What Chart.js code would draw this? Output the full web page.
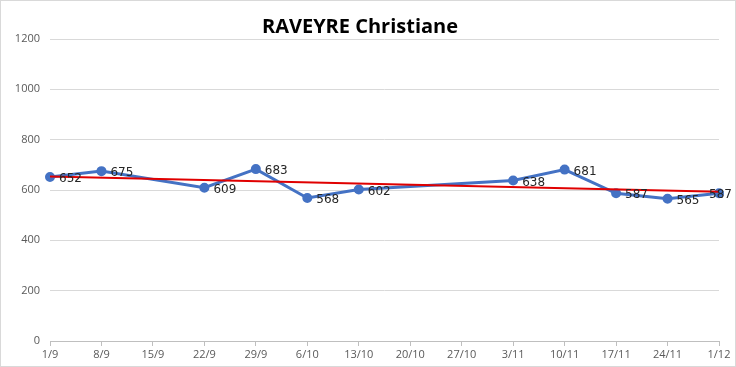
<!DOCTYPE html>
<html>
<head>
<meta charset="utf-8">
<script src="https://cdn.jsdelivr.net/npm/chart.js@4/dist/chart.umd.min.js"></script>
<style>
  body { margin: 0; background: #fff; }
  #wrap { width: 736px; height: 367px; box-sizing: border-box; border: 1px solid #d9d9d9; position: relative; }
  canvas { display: block; }
</style>
</head>
<body>
<div id="wrap"><canvas id="c" width="734" height="365"></canvas></div>
<script>
// weekly labels on the x axis
const weeks = ['1/9','8/9','15/9','22/9','29/9','6/10','13/10','20/10','27/10','3/11','10/11','17/11','24/11','1/12']
// scores, null where no entry that week
const scores = [652, 675, null, 609, 683, 568, 602, null, null, 638, 681, 587, 565, 587]
// linear trend line, ends
const trend = [654, null, null, null, null, null, null, null, null, null, null, null, null, 593]

Chart.defaults.animation = false
Chart.defaults.font.family = "'Open Sans', 'Liberation Sans', sans-serif"
Chart.defaults.color = "#595959"

const valueLabels = {
    id: 'valueLabels',
    afterDatasetsDraw(chart){
        const ctx = chart.ctx
        const meta = chart.getDatasetMeta(0)
        ctx.save()
        ctx.font = "12px 'DejaVu Sans', sans-serif"
        ctx.fillStyle = '#262626'
        ctx.textBaseline = 'middle'
        ctx.textAlign = 'left'
        meta.data.forEach((pt, i) => {
            if (scores[i] == null) return
            const txt = String(scores[i])
            const w = ctx.measureText(txt).width
            const x = Math.min(pt.x + 9, chart.width - w - 3)
            ctx.fillText(txt, x, pt.y + 2)
        })
        ctx.restore()
    }
}

new Chart(document.getElementById('c'), {
    type: 'line',
    data: {
        labels: weeks,
        datasets: [
            {
                data: scores,
                borderColor: '#4472C4',
                backgroundColor: '#4472C4',
                borderWidth: 3,
                pointRadius: 3.5,
                pointHoverRadius: 3.5,
                spanGaps: true,
                tension: 0,
                order: 2
            },
            {
                data: trend,
                borderColor: '#E00000',
                borderWidth: 2,
                pointRadius: 0,
                spanGaps: true,
                order: 1
            }
        ]
    },
    options: {
        responsive: false,
        layout: { padding: { left: 0, right: 16, top: 0, bottom: 0 } },
        scales: {
            y: {
                min: 0,
                max: 1200,
                ticks: { stepSize: 200, font: { size: 11 }, padding: 10, callback: v => v },
                grid: { color: '#d9d9d9', drawTicks: false },
                border: { display: false },
                afterFit(scale){ scale.width = 49 }
            },
            x: {
                offset: false,
                ticks: { font: { size: 11 }, maxRotation: 0, autoSkip: false, padding: 2 },
                grid: { drawOnChartArea: false, color: '#bfbfbf', tickLength: 5 },
                border: { color: '#bfbfbf' },
                afterFit(scale){ scale.height = 25 }
            }
        },
        plugins: {
            legend: { display: false },
            tooltip: { enabled: false },
            title: {
                display: true,
                text: 'RAVEYRE Christiane',
                color: '#000',
                font: { size: 20, weight: 'bold', family: "'Open Sans', sans-serif" },
                padding: { top: 14, bottom: 0 }
            }
        }
    },
    plugins: [valueLabels]
})
</script>
</body>
</html>
